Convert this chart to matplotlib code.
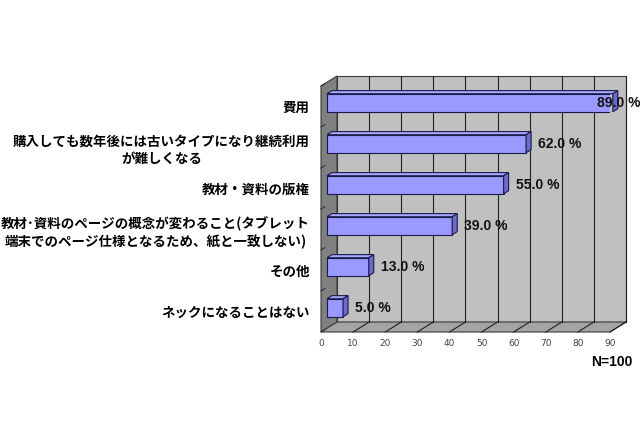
import matplotlib
matplotlib.use("Agg")
import matplotlib.pyplot as plt
from matplotlib.patches import Polygon

categories = [
    "費用",
    "購入しても数年後には古いタイプになり継続利用\nが難しくなる",
    "教材・資料の版権",
    "教材･資料のページの概念が変わること(タブレット\n端末でのページ仕様となるため、紙と一致しない)",
    "その他",
    "ネックになることはない",
]
values = [89.0, 62.0, 55.0, 39.0, 13.0, 5.0]
value_labels = ["89.0 %", "62.0 %", "55.0 %", "39.0 %", "13.0 %", "5.0 %"]
xticks = [0, 10, 20, 30, 40, 50, 60, 70, 80, 90]
note = "N=100"

W, H = 640, 426
fig = plt.figure(figsize=(W / 100, H / 100), dpi=100)
# front frame: x 0..90 -> px 321..610, y bands 0..6 -> px 86..332
ax = fig.add_axes([321 / W, (H - 332) / H, (610 - 321) / W, (332 - 86) / H])
n = len(categories)
XMAX = 90
ax.set_xlim(0, XMAX)
ax.set_ylim(n, 0)

DX = 16 / (289 / 90)   # depth offset in x data units
DY = 10 / (246 / n)    # depth offset in y data units (upward)

edge = "#3a3a3a"
# side wall
ax.add_patch(Polygon([(0, 0), (0, n), (DX, n - DY), (DX, -DY)], closed=True,
                     facecolor="#808080", edgecolor=edge, lw=0.8, zorder=1, clip_on=False))
# back wall
ax.add_patch(Polygon([(DX, -DY), (XMAX + DX, -DY), (XMAX + DX, n - DY), (DX, n - DY)], closed=True,
                     facecolor="#c0c0c0", edgecolor=edge, lw=0.8, zorder=1, clip_on=False))
# floor
ax.add_patch(Polygon([(0, n), (XMAX, n), (XMAX + DX, n - DY), (DX, n - DY)], closed=True,
                     facecolor="#a4a4a4", edgecolor=edge, lw=0.8, zorder=1, clip_on=False))
for t in xticks[1:]:
    ax.plot([t + DX, t + DX], [-DY, n - DY], color="#202020", lw=0.8, zorder=2, clip_on=False)
    ax.plot([t, t + DX], [n, n - DY], color="#202020", lw=0.8, zorder=2, clip_on=False)
# side-wall tick marks at band boundaries
for k in range(n + 1):
    ax.plot([0, 1.2], [k, k - 1.2 * DY / DX], color="#303030", lw=0.8, zorder=2, clip_on=False)

# bars
f1, f2 = 6 / 16, 11 / 16
bh = 0.44
centers = [i + 0.5 - f1 * DY for i in range(n)]
x0 = f1 * DX
bar_face = "#9999ff"
ax.barh(centers, values, left=x0, height=bh, color=bar_face, edgecolor="#1a1a4a",
        lw=0.8, zorder=4)
ddx = (f2 - f1) * DX
ddy = (f2 - f1) * DY
for c, v in zip(centers, values):
    top = c - bh / 2
    bot = c + bh / 2
    xe = x0 + v
    ax.add_patch(Polygon([(x0, top), (xe, top), (xe + ddx, top - ddy), (x0 + ddx, top - ddy)],
                         closed=True, facecolor="#a8a8ff", edgecolor="#1a1a4a", lw=0.8, zorder=4,
                         clip_on=False))
    ax.add_patch(Polygon([(xe, top), (xe + ddx, top - ddy), (xe + ddx, bot - ddy), (xe, bot)],
                         closed=True, facecolor="#6b6bcc", edgecolor="#1a1a4a", lw=0.8, zorder=4,
                         clip_on=False))

for c, v, lab in zip(centers, values, value_labels):
    ax.text(min(x0 + v + 3.8, 86), c, lab, ha="left", va="center", fontsize=10,
            fontweight="bold", family=["Liberation Sans", "DejaVu Sans"], color="#111111",
            zorder=6, clip_on=False)

for s in ax.spines.values():
    s.set_visible(False)
ax.set_xticks(xticks)
ax.set_xticklabels([str(t) for t in xticks], fontsize=6.5, color="#444444",
                   family=["DejaVu Sans"])
ax.tick_params(axis="x", length=0, pad=5)
ax.set_yticks([i + 0.5 for i in range(n)])
ax.set_yticklabels(categories)
for lbl in ax.get_yticklabels():
    lbl.set_family(["Noto Sans CJK JP", "DejaVu Sans"])
    lbl.set_fontweight("bold")
    lbl.set_fontsize(9.7)
    lbl.set_multialignment("center")
    lbl.set_linespacing(1.3)
ax.tick_params(axis="y", length=0, pad=8)
ax.patch.set_visible(False)

fig.text(632 / W, 1 - 362 / H, note, ha="right", va="center", fontsize=10,
         fontweight="bold", family=["Liberation Sans", "DejaVu Sans"])

fig.savefig("out.png", dpi=100, facecolor="white")
